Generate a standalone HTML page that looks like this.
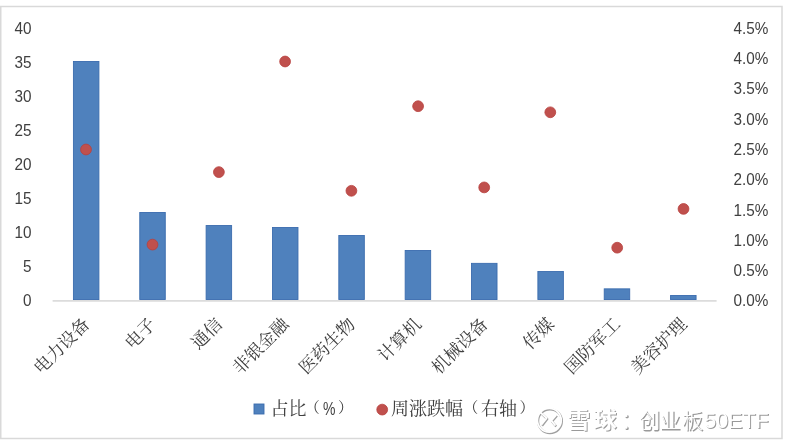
<!DOCTYPE html>
<html><head><meta charset="utf-8">
<style>
html,body{margin:0;padding:0;background:#fff;}
body{width:793px;height:445px;overflow:hidden;position:relative;}
svg{position:absolute;left:0;top:0;will-change:transform;}
.bar{fill:#4f81bd;stroke:#3b6cae;stroke-width:0.9;}
.dot{fill:#c0504d;stroke:#b8403d;stroke-width:0.8;}
.ax{font-family:"Liberation Sans",sans-serif;font-size:16.8px;fill:#404040;}
.cat{font-family:"Liberation Serif","Noto Serif CJK SC",serif;font-size:17.6px;font-weight:400;fill:#404040;}
.lg{font-family:"Liberation Sans","Noto Serif CJK SC",serif;font-size:18px;font-weight:400;fill:#404040;}
.wm{font-family:"Liberation Sans","Noto Sans CJK SC",sans-serif;font-size:21.5px;}
</style></head><body>
<svg width="793" height="445" viewBox="0 0 793 445">
<rect x="0.75" y="6.5" width="781.25" height="432" fill="#fff" stroke="#d9d9d9" stroke-width="1.5"/>
<rect x="73.42" y="61.45" width="25.50" height="238.10" class="bar"/>
<rect x="139.77" y="212.45" width="25.50" height="87.10" class="bar"/>
<rect x="206.12" y="225.55" width="25.50" height="74.00" class="bar"/>
<rect x="272.47" y="227.45" width="25.50" height="72.10" class="bar"/>
<rect x="338.82" y="235.45" width="25.50" height="64.10" class="bar"/>
<rect x="405.17" y="250.45" width="25.50" height="49.10" class="bar"/>
<rect x="471.52" y="263.35" width="25.50" height="36.20" class="bar"/>
<rect x="537.88" y="271.55" width="25.50" height="28.00" class="bar"/>
<rect x="604.22" y="288.85" width="25.50" height="10.70" class="bar"/>
<rect x="670.57" y="295.45" width="25.50" height="4.10" class="bar"/>
<rect x="52.6" y="300.1" width="664.0" height="1.6" fill="#d9d9d9"/>
<circle cx="86.0" cy="149.5" r="5.4" class="dot"/>
<circle cx="152.5" cy="244.6" r="5.4" class="dot"/>
<circle cx="218.9" cy="172.1" r="5.4" class="dot"/>
<circle cx="285.1" cy="61.5" r="5.4" class="dot"/>
<circle cx="351.4" cy="190.8" r="5.4" class="dot"/>
<circle cx="418.1" cy="106.2" r="5.4" class="dot"/>
<circle cx="484.2" cy="187.4" r="5.4" class="dot"/>
<circle cx="550.3" cy="112.3" r="5.4" class="dot"/>
<circle cx="617.2" cy="247.7" r="5.4" class="dot"/>
<circle cx="683.5" cy="208.9" r="5.4" class="dot"/>
<g transform="translate(31.4,0) scale(0.91,1)">
<text x="0" y="306.40" class="ax" text-anchor="end">0</text>
<text x="0" y="272.34" class="ax" text-anchor="end">5</text>
<text x="0" y="238.28" class="ax" text-anchor="end">10</text>
<text x="0" y="204.21" class="ax" text-anchor="end">15</text>
<text x="0" y="170.15" class="ax" text-anchor="end">20</text>
<text x="0" y="136.09" class="ax" text-anchor="end">25</text>
<text x="0" y="102.03" class="ax" text-anchor="end">30</text>
<text x="0" y="67.96" class="ax" text-anchor="end">35</text>
<text x="0" y="33.90" class="ax" text-anchor="end">40</text>
</g>
<g transform="translate(733.6,0) scale(0.91,1)">
<text x="0" y="306.40" class="ax">0.0%</text>
<text x="0" y="276.12" class="ax">0.5%</text>
<text x="0" y="245.84" class="ax">1.0%</text>
<text x="0" y="215.57" class="ax">1.5%</text>
<text x="0" y="185.29" class="ax">2.0%</text>
<text x="0" y="155.01" class="ax">2.5%</text>
<text x="0" y="124.73" class="ax">3.0%</text>
<text x="0" y="94.46" class="ax">3.5%</text>
<text x="0" y="64.18" class="ax">4.0%</text>
<text x="0" y="33.90" class="ax">4.5%</text>
</g>
<text x="86.5" y="321" class="cat" text-anchor="end" dominant-baseline="central" transform="rotate(-45 86.5 321)">电力设备</text>
<text x="152.8" y="321" class="cat" text-anchor="end" dominant-baseline="central" transform="rotate(-45 152.8 321)">电子</text>
<text x="219.2" y="321" class="cat" text-anchor="end" dominant-baseline="central" transform="rotate(-45 219.2 321)">通信</text>
<text x="285.5" y="321" class="cat" text-anchor="end" dominant-baseline="central" transform="rotate(-45 285.5 321)">非银金融</text>
<text x="351.9" y="321" class="cat" text-anchor="end" dominant-baseline="central" transform="rotate(-45 351.9 321)">医药生物</text>
<text x="418.2" y="321" class="cat" text-anchor="end" dominant-baseline="central" transform="rotate(-45 418.2 321)">计算机</text>
<text x="484.6" y="321" class="cat" text-anchor="end" dominant-baseline="central" transform="rotate(-45 484.6 321)">机械设备</text>
<text x="550.9" y="321" class="cat" text-anchor="end" dominant-baseline="central" transform="rotate(-45 550.9 321)">传媒</text>
<text x="617.3" y="321" class="cat" text-anchor="end" dominant-baseline="central" transform="rotate(-45 617.3 321)">国防军工</text>
<text x="683.6" y="321" class="cat" text-anchor="end" dominant-baseline="central" transform="rotate(-45 683.6 321)">美容护理</text>
<rect x="254" y="404" width="10" height="10" class="bar"/>
<text y="414.6" class="lg"><tspan x="270.5">占比</tspan></text>
<text y="413.4" class="lg" style="font-size:15px"><tspan x="304.8">（</tspan><tspan x="337.9">）</tspan></text>
<text class="lg" transform="translate(322.9,414.8) scale(0.8,1)" style="font-size:17.5px">%</text>
<circle cx="382.2" cy="409.6" r="5.4" class="dot"/>
<text y="414.6" class="lg"><tspan x="391">周涨跌幅</tspan><tspan x="481">右轴</tspan></text>
<text y="413.4" class="lg" style="font-size:15px"><tspan x="463.2">（</tspan><tspan x="519.6">）</tspan></text>
<g class="wm">
<g transform="translate(0.7,0.9)" fill="none" stroke="#a0a0a0" stroke-width="2.2" stroke-linejoin="round">
<circle cx="549.3" cy="420.3" r="11.9"/>
<path d="M539.8 411.8 L546.6 418.2 L541.4 424.8 M556.3 414.8 L551.3 420.6 L555.5 425.6"/>
</g>
<g fill="none" stroke="#fff" stroke-width="1.8" stroke-linejoin="round">
<circle cx="549.3" cy="420.3" r="11.9"/>
<path d="M539.8 411.8 L546.6 418.2 L541.4 424.8 M556.3 414.8 L551.3 420.6 L555.5 425.6"/>
</g>
<text y="428.2" transform="translate(0.8,0.8)" style="fill:#9a9a9a"><tspan x="567.5 594" style="font-weight:bold;font-size:23px">雪球</tspan><tspan x="621">：</tspan><tspan x="639.5 660 682.5" style="font-size:21px">创业板</tspan><tspan x="704.5">50ETF</tspan></text>
<text y="428.2" transform="translate(-0.3,-0.3)" style="fill:#fff;font-weight:300"><tspan x="567.5 594" style="font-weight:bold;font-size:23px">雪球</tspan><tspan x="621">：</tspan><tspan x="639.5 660 682.5" style="font-size:21px">创业板</tspan><tspan x="704.5">50ETF</tspan></text>
</g>
</svg>
</body></html>
